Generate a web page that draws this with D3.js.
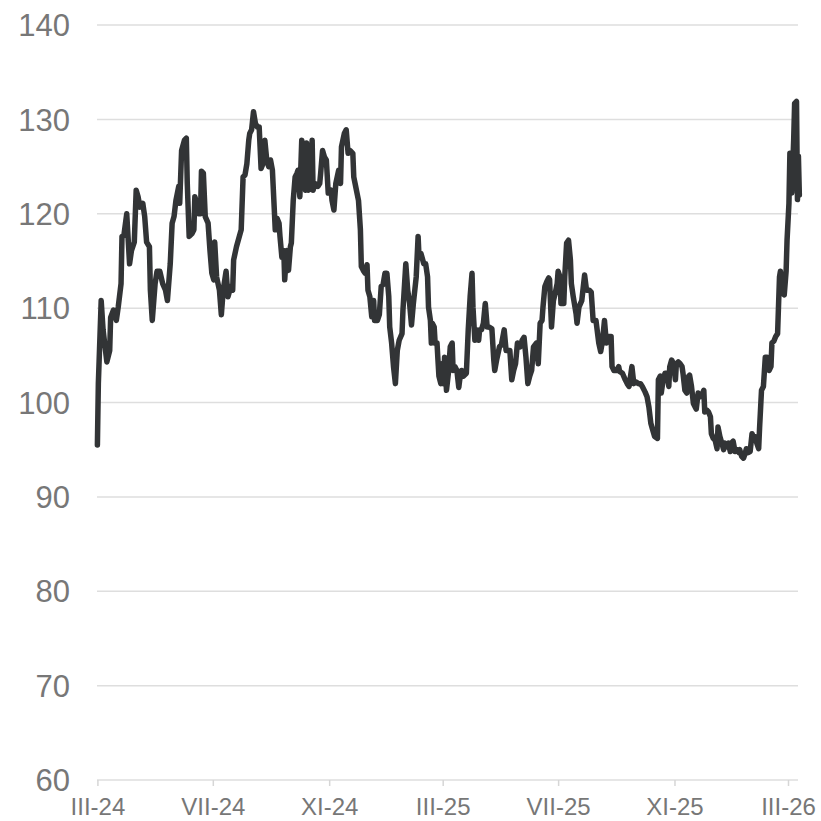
<!DOCTYPE html>
<meta charset="utf-8">
<html>
<head>
<style>
body { margin: 0; background: #fff; font-family: "Liberation Sans", Arial, sans-serif; }
.grid line { stroke: #dedede; stroke-width: 1.5; }
.yaxis text { fill: #777; font-size: 31px; }
.xaxis text { fill: #777; font-size: 24px; }
.xaxis line { stroke: #d6d6d6; stroke-width: 1.5; }
.xaxis path { display: none; }
</style>
<script src="https://d3js.org/d3.v7.min.js"></script>
</head>
<body>
<script>

// days since 2024-03-01
var days = [0, 1, 4, 6, 10, 13, 14, 17, 20, 22, 25, 26, 28, 31, 34, 36, 39, 41, 43, 45, 48, 50, 52, 55, 56, 58,
  61, 63, 66, 69, 72, 74, 77, 79, 81, 83, 86, 87, 89, 92, 94, 95, 97, 100, 102, 103, 105, 107, 109, 110, 112, 114,
  117, 119, 121, 123, 124, 126, 129, 131, 133, 136, 138, 141, 143, 144, 147, 150, 152, 154, 156, 158, 160, 161, 163,
  165, 167, 169, 171, 173, 175, 177, 179, 181, 183, 185, 187, 188, 190, 192, 193, 195, 197, 198, 200, 202, 204, 205,
  207, 209, 211, 212, 214, 216, 218, 220, 221, 223, 225, 227, 228, 230, 233, 235, 236, 238, 240, 242, 244, 247, 248,
  250, 252, 255, 257, 258, 261, 263, 265, 267, 270, 271, 273, 276, 278, 279, 281, 283, 285, 286, 288, 290, 292, 293,
  296, 298, 300, 302, 304, 306, 308, 309, 311, 313, 315, 317, 319, 322, 323, 326, 328, 330, 332, 334, 337, 339, 340,
  342, 345, 347, 349, 350, 352, 353, 354, 356, 357, 359, 360, 361, 363, 364, 366, 367, 369, 371, 373, 375, 376, 378,
  380, 382, 383, 385, 387, 390, 392, 394, 396, 397, 399, 401, 403, 404, 406, 408, 410, 412, 414, 417, 419, 420, 422,
  425, 427, 430, 432, 433, 436, 438, 440, 442, 444, 447, 449, 451, 453, 455, 457, 459, 461, 464, 466, 468, 470, 471,
  473, 475, 477, 478, 480, 482, 484, 486, 487, 489, 490, 493, 494, 496, 498, 500, 501, 503, 506, 507, 509, 512, 515,
  517, 520, 522, 524, 527, 530, 532, 534, 536, 538, 540, 543, 544, 546, 549, 551, 552, 555, 558, 560, 562, 565, 567,
  569, 572, 574, 576, 579, 581, 583, 585, 587, 589, 592, 593, 595, 596, 598, 600, 602, 604, 605, 607, 609, 611, 612,
  614, 616, 618, 619, 621, 623, 625, 626, 628, 630, 632, 633, 635, 637, 639, 641, 642, 644, 646, 648, 649, 651, 653,
  655, 656, 658, 660, 662, 663, 665, 667, 669, 670, 672, 674, 676, 678, 679, 681, 683, 685, 686, 688, 690, 692, 693,
  695, 697, 699, 700, 702, 704, 706, 708, 710, 712, 713, 715, 717, 719, 721, 722, 724, 726, 728, 729, 731, 732, 734,
  736, 737, 739, 740, 741, 742];

var values = [95.5, 102, 110.8, 107.7, 104.3, 105.5, 109, 109.8, 108.7, 110.1, 112.6, 117.6, 117.7, 120.0, 114.7,
  116.1, 117, 122.5, 121.8, 120.7, 121.1, 119.7, 117, 116.5, 111.9, 108.7,
  112.6, 113.9, 113.9, 112.6, 111.9, 110.8, 114.7, 119.0, 119.7, 121.4, 122.9, 121.1, 126.7, 127.8, 128, 123.2,
  117.6, 117.9, 118.3, 121.8, 121.1, 120, 120, 124.5, 124.3, 119.7,
  119, 116.1, 113.7, 113, 117, 113.3, 111.9, 109.3, 111.9, 113.9, 111.2, 112.3, 111.9, 115.1, 116.5, 117.6, 118.3,
  123.9, 124.1, 125.3, 127.8, 128.5, 128.9,
  130.8, 129.6, 129.2, 129.2, 124.8, 125.3, 127.8, 125.7, 125, 125.7, 124.6, 120.4, 118.3, 119.5, 119, 117.6, 115.4,
  116.1, 113, 116.1, 114, 116.5, 116.9,
  121.4, 123.9, 124.3, 124.6, 121.8, 127.8, 126, 122.5, 127.5, 122.5, 124.3, 127.8, 122.5, 123.2, 122.9, 123.2,
  124.3, 126.7, 126, 125.7, 122.2, 122.5, 121.4,
  120.4, 123.2, 124.6, 123.2, 127.1, 128.5, 128.9, 126.4, 126.7, 126.4, 123.9, 122.9, 121.4, 118.3, 114.4, 114,
  113.7, 114.6, 111.9, 111.2, 109.1, 110.8, 108.7,
  108.7, 109.3, 112.3, 112.5, 113.7, 113.7, 111.2, 108, 106.3, 103.8, 102, 105.5, 106.6, 107.3, 109.8, 114.7, 111.9,
  110.5, 108.2, 110.5, 113.3, 117.6, 115.4,
  115.8, 114.7, 114.7, 113.3, 110.1, 108.7, 106.3, 108.4, 108, 106.3, 106.3, 104.5, 102.8, 102, 104.1, 102, 104.8,
  101.3, 103.1, 105.9, 106.3, 103.4, 103.8,
  103.4, 101.6, 102.4, 103.4, 102.8, 103.1, 107.7, 111.2, 113.7, 110.1, 106.6, 107.7, 106.6, 107.7, 107.7, 108.4,
  110.5, 108, 108, 107.8, 104.5, 103.4, 104.5,
  105.9, 106.1, 107.7, 105.5, 105.5, 105.5, 102.4, 103.4, 104.1, 106.3, 105.9, 106.6, 106.9, 104.8, 102, 102.8,
  103.4, 105.9, 106.3, 104.1, 108.4, 108.7, 110.1,
  112.3, 112.8, 113.2, 113, 108, 110.8, 111.6, 112.6, 113.9, 113.3, 110.5, 110.5, 113.3, 116.9, 117.2, 115.1, 112.6,
  111.2, 109.4, 108.4, 110.1, 110.8, 113.5,
  111.9, 111.9, 111.7, 108.7, 108.7, 106.3, 105.4, 106.6, 108.7, 106.3, 107, 107, 103.8, 103.4, 103.4, 103.8, 103.3,
  103.1, 102.4, 102, 101.7, 103.8, 102,
  102.2, 102, 102, 101.7, 101.1, 100.6, 99.5, 97.8, 97.1, 96.4, 96.2, 102.4, 102.8, 101, 102.4, 103.1, 103.1, 101.7,
  103.8, 104.5, 104.1, 102.4, 104.1,
  104.3, 104.1, 103.8, 103.1, 101.3, 101, 102.8, 102.9, 101.7, 99.9, 99.5, 99.3, 101, 100.6, 100.8, 101.3, 99, 99.2,
  99, 98.5, 96.7, 96.2, 96,
  95.1, 97.4, 96.4, 95.7, 95, 95.7, 95.3, 95.7, 94.8, 95.7, 95.9, 94.8, 95, 94.7, 95, 94.3, 94.1, 94.7, 95.1, 94.7,
  94.8, 96.7, 96.4,
  96.4, 95.7, 95.1, 97.4, 101.3, 101.7, 104.8, 104.8, 103.4, 103.8, 106.3, 106.5, 107, 107.3, 113.3, 113.9, 111.6,
  111.4, 113.9, 117.2, 121.1, 126.4, 122.2,
  127.8, 131.7, 131.9, 121.5, 126.1, 122];

var yTicks = [60, 70, 80, 90, 100, 110, 120, 130, 140];
var xTickDates = ["2024-03-01", "2024-07-01", "2024-11-01", "2025-03-01", "2025-07-01", "2025-11-01", "2026-03-01"];
var xTickLabels = ["III-24", "VII-24", "XI-24", "III-25", "VII-25", "XI-25", "III-26"];

var W = 821, H = 821;
var plotLeft = 97, plotRight = 798, plotTop = 25, plotBottom = 780;

var parse = d3.timeParse("%Y-%m-%d");
var start = parse("2024-03-01");
var data = days.map(function(d, i) {
    return { date: d3.timeDay.offset(start, d), value: values[i] };
});
var tickDates = xTickDates.map(parse);

var svg = d3.select("body").append("svg")
    .attr("width", W)
    .attr("height", H);

var x = d3.scaleTime()
    .domain([tickDates[0], tickDates[tickDates.length - 1]])
    .range([97.4, 788]);

var y = d3.scaleLinear()
    .domain([60, 140])
    .range([plotBottom, plotTop]);

// gridlines
svg.append("g")
    .attr("class", "grid")
    .selectAll("line")
    .data(yTicks)
    .enter().append("line")
        .attr("x1", plotLeft)
        .attr("x2", plotRight)
        .attr("y1", function(d) { return y(d); })
        .attr("y2", function(d) { return y(d); });

// y labels
svg.append("g")
    .attr("class", "yaxis")
    .selectAll("text")
    .data(yTicks)
    .enter().append("text")
        .attr("x", 70)
        .attr("y", function(d) { return y(d); })
        .attr("dy", "0.36em")
        .attr("text-anchor", "end")
        .text(function(d) { return d; });

// x axis
var xAxis = d3.axisBottom(x)
    .tickValues(tickDates)
    .tickSize(6)
    .tickPadding(12)
    .tickFormat(function(d, i) { return xTickLabels[i]; });

var xg = svg.append("g")
    .attr("class", "xaxis")
    .attr("transform", "translate(0," + plotBottom + ")")
    .call(xAxis);
xg.attr("font-size", null).attr("font-family", null);

// line
var line = d3.line()
    .x(function(d) { return x(d.date); })
    .y(function(d) { return y(d.value); });

svg.append("path")
    .datum(data)
    .attr("fill", "none")
    .attr("stroke", "#323436")
    .attr("stroke-width", 5.5)
    .attr("stroke-linejoin", "round")
    .attr("stroke-linecap", "round")
    .attr("d", line);

</script>
</body>
</html>
